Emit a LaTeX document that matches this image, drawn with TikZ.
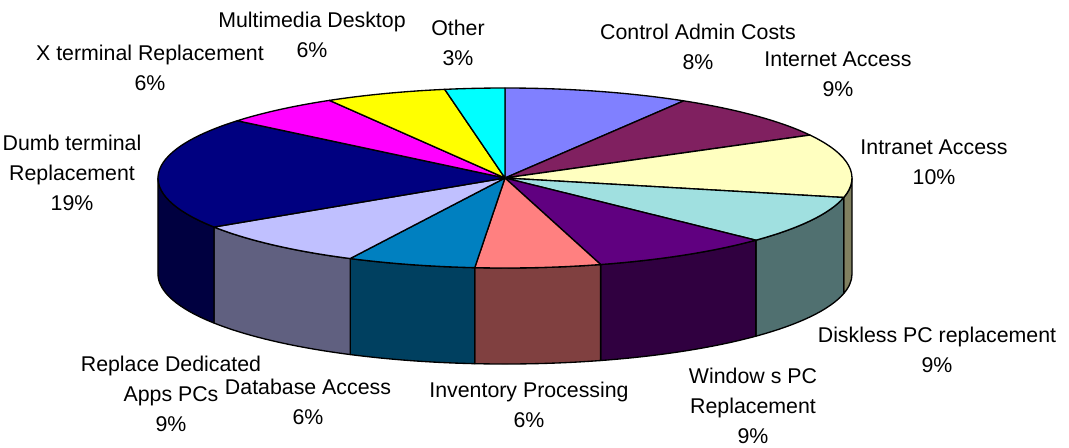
\documentclass[tikz,border=0pt]{standalone}
\usepackage{fontspec}
\setmainfont{Liberation Sans}
\usetikzlibrary{positioning}

\definecolor{admin}{HTML}{8080FF}
\definecolor{internet}{HTML}{802060}
\definecolor{intranet}{HTML}{FFFFC0}
\definecolor{diskless}{HTML}{A0E0E0}
\definecolor{windows}{HTML}{600080}
\definecolor{inventory}{HTML}{FF8080}
\definecolor{database}{HTML}{0080C0}
\definecolor{dedicated}{HTML}{C0C0FF}
\definecolor{dumb}{HTML}{000080}
\definecolor{xterm}{HTML}{FF00FF}
\definecolor{multimedia}{HTML}{FFFF00}
\definecolor{other}{HTML}{00FFFF}
\definecolor{intranet side}{HTML}{808060}
\definecolor{diskless side}{HTML}{507070}
\definecolor{windows side}{HTML}{300040}
\definecolor{inventory side}{HTML}{804040}
\definecolor{database side}{HTML}{004060}
\definecolor{dedicated side}{HTML}{606080}
\definecolor{dumb side}{HTML}{000040}

\begin{document}
\begin{tikzpicture}[x=0.75pt, y=0.75pt, line width=1pt, line join=round,
    slice label/.style={align=center, font=\fontsize{16}{22.5}\selectfont}]
    \useasboundingbox (-505,-269) rectangle (564,178);

    \foreach \a/\b/\c in {0/-12.5/intranet side, -12.5/-43.7/diskless side,
        -43.7/-74/windows side, -74/-95/inventory side, -95/-116.5/database side,
        -116.5/-147/dedicated side, -147/-180/dumb side}
        \filldraw[fill=\c] (\a:347 and 90)
            arc[start angle=\a, end angle=\b, x radius=347, y radius=90] -- ++(0,-96)
            arc[start angle=\b, end angle=\a, x radius=347, y radius=90] -- cycle;

    \foreach \a/\b/\c in {90/59/admin, 59/28.5/internet, 28.5/-12.5/intranet,
        -12.5/-43.7/diskless, -43.7/-74/windows, -74/-95/inventory,
        -95/-116.5/database, -116.5/-147/dedicated, -147/-219.5/dumb,
        -219.5/-239.6/xterm, -239.6/-260/multimedia, -260/-270/other}
        \filldraw[fill=\c] (0,0) -- (\a:347 and 90)
            arc[start angle=\a, end angle=\b, x radius=347, y radius=90] -- cycle;

    \node[slice label] (admin label)      at (193,131.5) {Control Admin Costs\\8\%};
    \node[slice label] (internet label)   at (333,104)   {Internet Access\\9\%};
    \node[slice label] (intranet label)   at (429,16)    {Intranet Access\\10\%};
    \node[slice label] (diskless label)   at (432,-172)  {Diskless PC replacement\\9\%};
    \node[slice label] (windows label)    at (248,-228)  {Window s PC\\Replacement\\9\%};
    \node[slice label] (inventory label)  at (24,-227)   {Inventory Processing\\6\%};
    \node[slice label] (database label)   at (-197,-224) {Database Access\\6\%};
    \node[slice label] (dedicated label)  at (-334,-216) {Replace Dedicated\\Apps PCs\\9\%};
    \node[slice label] (dumb label)       at (-433,5)    {Dumb terminal\\Replacement\\19\%};
    \node[slice label] (xterm label)      at (-355,110)  {X terminal Replacement\\6\%};
    \node[slice label] (multimedia label) at (-193,143)  {Multimedia Desktop\\6\%};
    \node[slice label] (other label)      at (-47,135.5) {Other\\3\%};
\end{tikzpicture}
\end{document}
